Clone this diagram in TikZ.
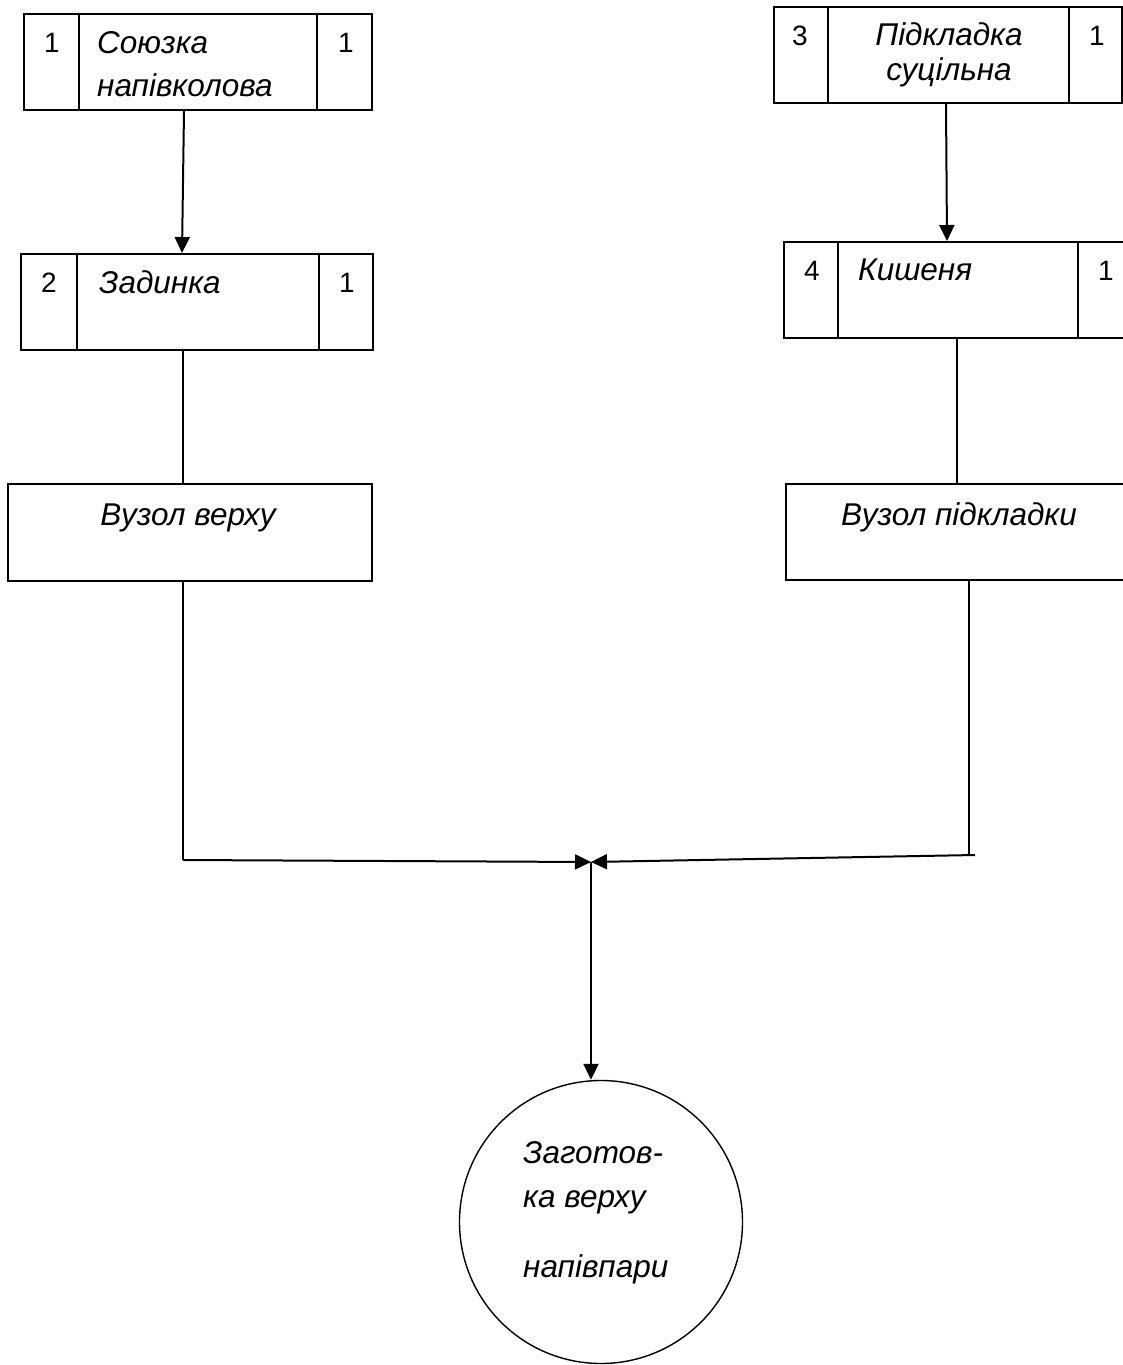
\documentclass[tikz,border=0pt]{standalone}
\usepackage{fontspec}
\setmainfont{Liberation Sans}
\usetikzlibrary{arrows.meta}
\begin{document}
\begin{tikzpicture}[x=1pt,y=-1pt,
  box/.style={draw,line width=2pt,inner sep=0pt,minimum width=#1},
  divl/.style={line width=2pt},
  conn/.style={line width=2pt},
  arr/.style={line width=2pt,-{Triangle[length=16pt,width=15pt]}},
  num/.style={font=\fontsize{28}{30}\selectfont,inner sep=0pt,anchor=base},
  lbl/.style={font=\fontsize{31.5}{36}\selectfont\itshape,inner sep=0pt,anchor=base west},
  clbl/.style={font=\fontsize{31.5}{36}\selectfont\itshape,inner sep=0pt,anchor=base}]
\useasboundingbox (0,0) rectangle (1123,1365);
% box 1
\node[box=348pt,minimum height=96pt] (b1) at (198,62) {};
\draw[divl] (79,14) -- (79,110);
\draw[divl] (317,14) -- (317,110);
\node[num] (b1n) at (52,52) {1};
\node[num] (b1q) at (346,52) {1};
\node[lbl] (b1t) at (97,53) {Союзка};
\node[lbl] (b1u) at (97,96) {напівколова};
% box 2
\node[box=352pt,minimum height=96pt] (b2) at (197,302) {};
\draw[divl] (77,254) -- (77,350);
\draw[divl] (319,254) -- (319,350);
\node[num] (b2n) at (49,292) {2};
\node[num] (b2q) at (347,292) {1};
\node[lbl] (b2t) at (99,293) {Задинка};
% box 3
\node[box=348pt,minimum height=96pt] (b3) at (948,55) {};
\draw[divl] (828,7) -- (828,103);
\draw[divl] (1069,7) -- (1069,103);
\node[num] (b3n) at (800,45) {3};
\node[num] (b3q) at (1097,45) {1};
\node[clbl] (b3t) at (949,45) {Підкладка};
\node[clbl] (b3u) at (949,80) {суцільна};
% box 4
\node[box=340pt,minimum height=96pt] (b4) at (954,290) {};
\draw[divl] (838,242) -- (838,338);
\draw[divl] (1078,242) -- (1078,338);
\node[num] (b4n) at (812,280) {4};
\node[num] (b4q) at (1106,280) {1};
\node[lbl] (b4t) at (858,280) {Кишеня};
% assembly boxes
\node[box=364pt,minimum height=97pt] (v1) at (190,532.5) {};
\node[clbl] (v1t) at (188,525) {Вузол верху};
\node[box=340pt,minimum height=96pt] (v2) at (956,532) {};
\node[clbl] (v2t) at (959,525) {Вузол підкладки};
% circle
\node[draw,circle,line width=1.4pt,minimum size=283pt,inner sep=0pt] (c) at (601,1222) {};
\node[lbl] (ct1) at (523,1163) {Заготов-};
\node[lbl] (ct2) at (523,1207) {ка верху};
\node[lbl] (ct3) at (523,1277) {напівпари};
% junction
\coordinate (j) at (591,862);
\coordinate (lc) at (183,860);
\coordinate (rc) at (969,855);
\coordinate (re) at (975,855);
% connectors
\draw[arr] ([xshift=-14pt]b1.south) -- ([xshift=-15pt]b2.north);
\draw[arr] ([xshift=-2pt]b3.south) -- ([xshift=-7pt]b4.north);
\draw[conn] ([xshift=-14pt]b2.south) -- ([xshift=-7pt]v1.north);
\draw[conn] ([xshift=3pt]b4.south) -- ([xshift=1pt]v2.north);
\draw[conn] ([xshift=-7pt]v1.south) -- (lc);
\draw[arr] (lc) -- (j);
\draw[conn] ([xshift=13pt]v2.south) -- (rc);
\draw[arr] (re) -- (j);
\draw[arr] (j) -- (c.north -| j);
\end{tikzpicture}
\end{document}
